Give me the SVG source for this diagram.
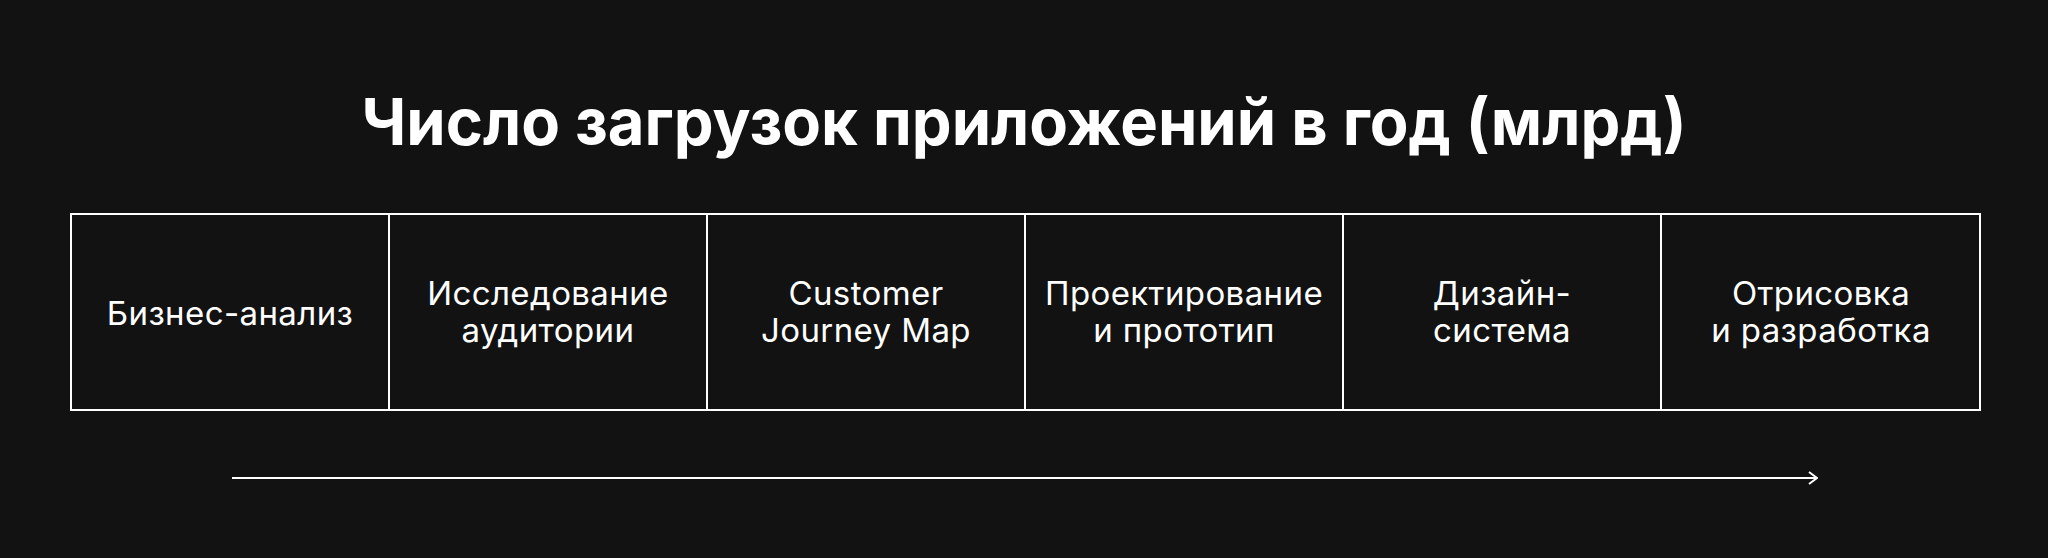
<svg xmlns="http://www.w3.org/2000/svg" width="2048" height="558" viewBox="0 0 2048 558">
<defs>
<style>
.bg{fill:#121212}
.title{font-family:Inter,"Noto Sans","Liberation Sans",sans-serif;font-weight:700;font-size:65px;fill:#ffffff;text-anchor:middle}
.cell{fill:#121212;stroke:#ffffff;stroke-width:2}
.lbl{font-family:Inter,"Noto Sans","Liberation Sans",sans-serif;font-weight:400;font-size:33px;letter-spacing:0.4px;fill:#ffffff;text-anchor:middle}
.conn{stroke:#ffffff;stroke-width:2;fill:none}
</style>
<marker id="chev" viewBox="0 0 10 14" refX="9" refY="7" markerWidth="10" markerHeight="14" markerUnits="userSpaceOnUse" orient="auto">
<path d="M1,1 L9,7 L1,13" fill="none" stroke="#ffffff" stroke-width="2"/>
</marker>
</defs>
<rect class="bg" x="0" y="0" width="2048" height="558"/>
<g id="title">
<text class="title" x="1024" y="145" textLength="1325" lengthAdjust="spacingAndGlyphs">Число загрузок приложений в год (млрд)</text>
</g>
<g id="node1">
<rect class="cell" x="71" y="214" width="318" height="196"/>
<text class="lbl" x="230" y="325">Бизнес-анализ</text>
</g>
<g id="node2">
<rect class="cell" x="389" y="214" width="318" height="196"/>
<text class="lbl" x="548" y="305">Исследование</text>
<text class="lbl" x="548" y="342">аудитории</text>
</g>
<g id="node3">
<rect class="cell" x="707" y="214" width="318" height="196"/>
<text class="lbl" x="866" y="305">Customer</text>
<text class="lbl" x="866" y="342">Journey Map</text>
</g>
<g id="node4">
<rect class="cell" x="1025" y="214" width="318" height="196"/>
<text class="lbl" x="1184" y="305">Проектирование</text>
<text class="lbl" x="1184" y="342">и прототип</text>
</g>
<g id="node5">
<rect class="cell" x="1343" y="214" width="318" height="196"/>
<text class="lbl" x="1502" y="305">Дизайн-</text>
<text class="lbl" x="1502" y="342">система</text>
</g>
<g id="node6">
<rect class="cell" x="1661" y="214" width="319" height="196"/>
<text class="lbl" x="1821" y="305">Отрисовка</text>
<text class="lbl" x="1821" y="342">и разработка</text>
</g>
<g id="connectors">
<line class="conn" x1="232" y1="478" x2="1817" y2="478" marker-end="url(#chev)"/>
</g>
</svg>
